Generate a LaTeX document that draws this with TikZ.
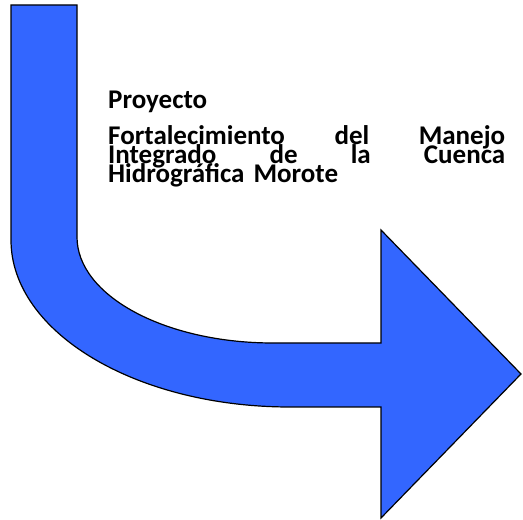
\documentclass[tikz,border=0pt]{standalone}
\usepackage{fontspec}
\setmainfont{Carlito}
\definecolor{arrowblue}{RGB}{51,102,255}
\begin{document}
\begin{tikzpicture}[x=1pt,y=1pt,
  bentarrow/.style={fill=arrowblue,draw=black,line width=1.2pt,line join=miter},
  txt/.style={anchor=base west,inner sep=0pt,font=\fontsize{27}{19}\selectfont\bfseries},
  jline/.style={txt,text width=397pt,align=left}]
\useasboundingbox (0,0) rectangle (523,520);
\draw[bentarrow] (11,515) -- (77,515) -- (77,283)
  arc[start angle=180,end angle=270,x radius=196,y radius=106]
  -- (381,177) -- (381,290) -- (521,146) -- (381,2) -- (381,113) -- (290,113)
  arc[start angle=270,end angle=180,x radius=279,y radius=167]
  -- cycle;
\node[txt] (title) at (108,411) {Proyecto};
\node[jline] (l1) at (108,375) {Fortalecimiento\hfill del\hfill Manejo};
\node[jline] (l2) at (108,356) {Integrado\hfill de\hfill la\hfill Cuenca};
\node[jline] (l3) at (108,337) {Hidrográfica Morote};
\end{tikzpicture}
\end{document}
